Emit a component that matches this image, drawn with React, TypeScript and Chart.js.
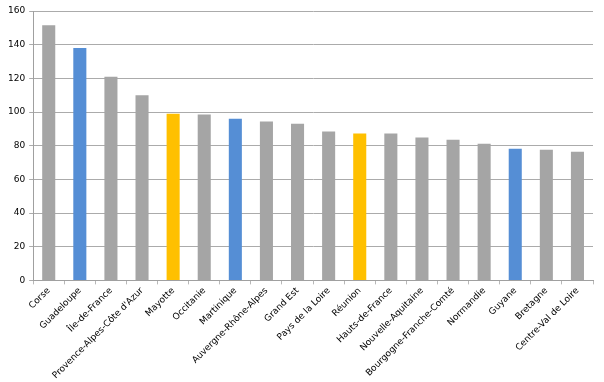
import React, { useEffect, useRef } from "react";
import { Chart, registerables } from "chart.js";

Chart.register(...registerables);

const regions = [
  "Corse",
  "Guadeloupe",
  "Île-de-France",
  "Provence-Alpes-Côte d'Azur",
  "Mayotte",
  "Occitanie",
  "Martinique",
  "Auvergne-Rhône-Alpes",
  "Grand Est",
  "Pays de la Loire",
  "Réunion",
  "Hauts-de-France",
  "Nouvelle-Aquitaine",
  "Bourgogne-Franche-Comté",
  "Normandie",
  "Guyane",
  "Bretagne",
  "Centre-Val de Loire",
];

const values = [151.5, 138, 121, 110, 99, 98.5, 96, 94.3, 93.1, 88.4, 87.2, 87.2, 84.8, 83.6, 81.2, 78.2, 77.6, 76.4];

// group: 0 = metropolitan, 1 = Antilles/Guyane, 2 = Indian Ocean
const groups = [0, 1, 0, 0, 2, 0, 1, 0, 0, 0, 2, 0, 0, 0, 0, 1, 0, 0];

const groupColors = ["#A5A5A5", "#558ED5", "#FFC000"];

export default function App() {
  const ref = useRef<HTMLCanvasElement>(null);
  useEffect(() => {
    if (!ref.current) return;
    const font = { family: "DejaVu Sans", size: 9 };
    const chart = new Chart(ref.current, {
      type: "bar",
      data: {
        labels: regions,
        datasets: [
          {
            data: values,
            backgroundColor: groups.map((g) => groupColors[g]),
            barPercentage: 0.42,
            categoryPercentage: 1,
          },
        ],
      },
      options: {
        animation: false,
        responsive: false,
        maintainAspectRatio: false,
        layout: { padding: { top: 11, right: 11, left: 4, bottom: 0 } },
        plugins: { legend: { display: false }, tooltip: { enabled: false } },
        scales: {
          x: {
            grid: {
              offset: true,
              drawOnChartArea: false,
              drawTicks: true,
              tickLength: 4,
              color: "#B8B8B8",
            },
            border: { color: "#A0A0A0", width: 1 },
            ticks: {
              font,
              color: "#000000",
              minRotation: 45,
              maxRotation: 45,
              autoSkip: false,
              padding: 1,
            },
          },
          y: {
            min: 0,
            max: 160,
            grid: { color: "#ABABAB", tickLength: 4, lineWidth: 1 },
            border: { color: "#A0A0A0", width: 1 },
            ticks: { stepSize: 20, font, color: "#000000", padding: 4 },
          },
        },
      },
    });
    return () => chart.destroy();
  }, []);
  return (
    <div style={{ position: "fixed", left: 0, top: 0, width: 604, height: 382, background: "#fff" }}>
      <canvas ref={ref} width={604} height={382} style={{ width: 604, height: 382 }} />
    </div>
  );
}
